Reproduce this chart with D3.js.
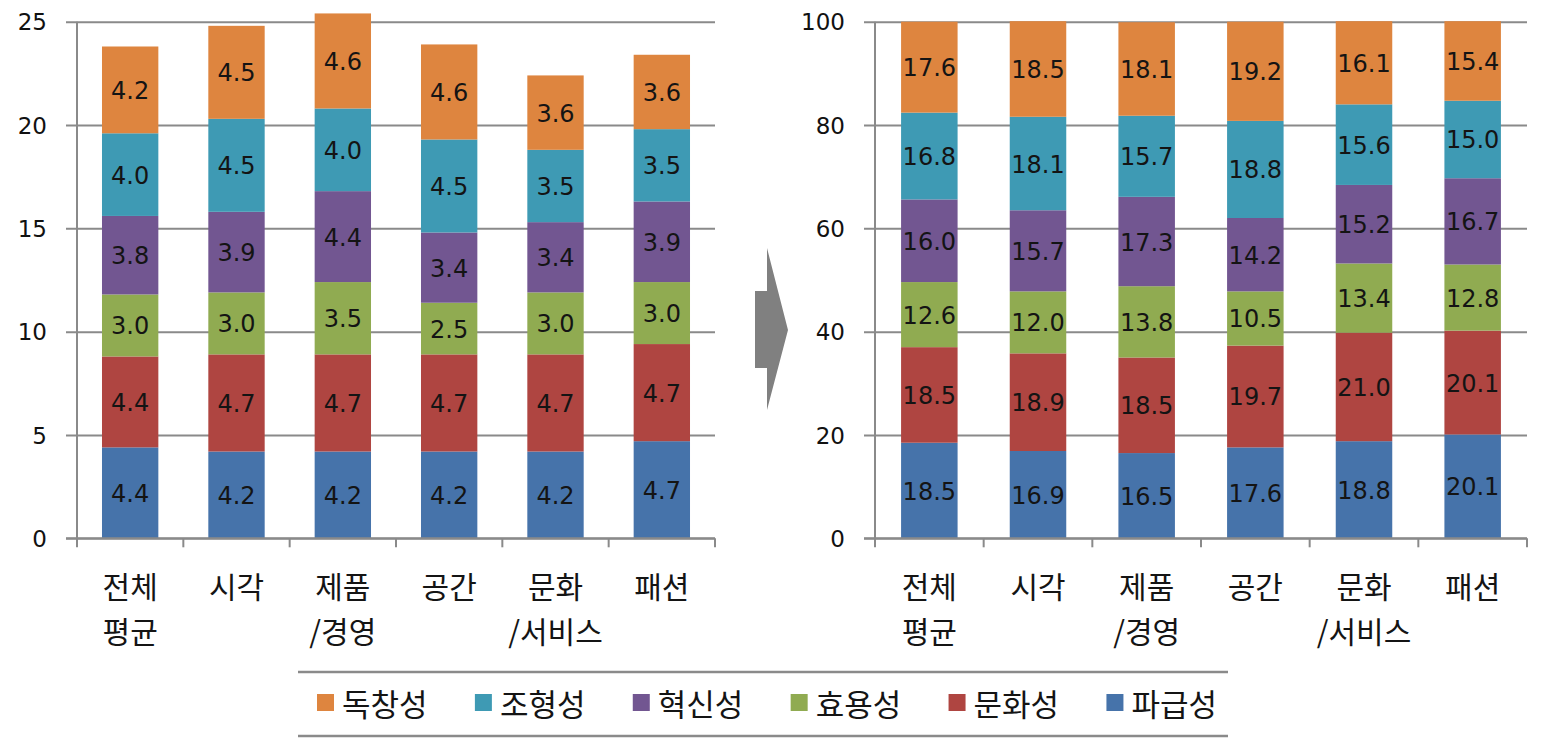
<!DOCTYPE html>
<html>
<head>
<meta charset="utf-8">
<script src="https://cdn.jsdelivr.net/npm/d3@7/dist/d3.min.js"></script>
<style>
  html, body { margin: 0; padding: 0; background: #ffffff; }
  svg { display: block; }
</style>
</head>
<body>
<svg id="chart" width="1547" height="748"></svg>
<script>
// ---------------- DATA ----------------
const categories = [["전체", "평균"], ["시각"], ["제품", "/경영"], ["공간"], ["문화", "/서비스"], ["패션"]];
// stacking order from bottom to top
const seriesNames = ["파급성", "문화성", "효용성", "혁신성", "조형성", "독창성"];
const seriesColors = ["#4673AA", "#AF4541", "#90AB51", "#725691", "#3E9AB4", "#DE853F"];
const legendOrder = ["독창성", "조형성", "혁신성", "효용성", "문화성", "파급성"];

// Left chart: scores
const left_파급성 = [4.4, 4.2, 4.2, 4.2, 4.2, 4.7];
const left_문화성 = [4.4, 4.7, 4.7, 4.7, 4.7, 4.7];
const left_효용성 = [3.0, 3.0, 3.5, 2.5, 3.0, 3.0];
const left_혁신성 = [3.8, 3.9, 4.4, 3.4, 3.4, 3.9];
const left_조형성 = [4.0, 4.5, 4.0, 4.5, 3.5, 3.5];
const left_독창성 = [4.2, 4.5, 4.6, 4.6, 3.6, 3.6];
const leftTicks = [0, 5, 10, 15, 20, 25];

// Right chart: percentages
const right_파급성 = [18.5, 16.9, 16.5, 17.6, 18.8, 20.1];
const right_문화성 = [18.5, 18.9, 18.5, 19.7, 21.0, 20.1];
const right_효용성 = [12.6, 12.0, 13.8, 10.5, 13.4, 12.8];
const right_혁신성 = [16.0, 15.7, 17.3, 14.2, 15.2, 16.7];
const right_조형성 = [16.8, 18.1, 15.7, 18.8, 15.6, 15.0];
const right_독창성 = [17.6, 18.5, 18.1, 19.2, 16.1, 15.4];
const rightTicks = [0, 20, 40, 60, 80, 100];

const leftSeries = [left_파급성, left_문화성, left_효용성, left_혁신성, left_조형성, left_독창성];
const rightSeries = [right_파급성, right_문화성, right_효용성, right_혁신성, right_조형성, right_독창성];

// ---------------- DRAW ----------------
const svg = d3.select("#chart");
const NUM_FONT = "'DejaVu Sans', Verdana, sans-serif";
const KR_FONT = "'Noto Sans CJK KR', 'Noto Sans', sans-serif";
const GRID = "#8a8a8a";
const color = d3.scaleOrdinal().domain(seriesNames).range(seriesColors);

function drawChart(cfg) {
  const g = svg.append("g");
  const keys = categories.map((c, i) => "c" + i);
  const x = d3.scaleBand().domain(keys).range([cfg.x0, cfg.x1])
    .paddingInner(cfg.pad).paddingOuter(cfg.pad / 2);
  const y = d3.scaleLinear().domain([0, cfg.max]).range([cfg.yBottom, cfg.yTop]);

  // table for stack
  const table = keys.map((k, i) => {
    const row = { key: k };
    seriesNames.forEach((s, j) => row[s] = cfg.series[j][i]);
    return row;
  });
  const stacked = d3.stack().keys(seriesNames)(table);

  // gridlines (y axis ticks with outer extension)
  const yAxis = d3.axisLeft(y).tickValues(cfg.ticks)
    .tickSize(-(cfg.x1 - cfg.x0)).tickSizeOuter(0).tickFormat(d3.format("d"));
  const ya = g.append("g").attr("transform", `translate(${cfg.x0},0)`).call(yAxis);
  ya.select(".domain").remove();
  ya.selectAll(".tick line").attr("stroke", GRID).attr("stroke-width", 2)
    .attr("x1", -11);
  ya.selectAll(".tick text").attr("x", -30).attr("dy", "0.36em")
    .attr("font-family", NUM_FONT).attr("font-size", 23).attr("fill", "#111");

  // vertical axis line
  g.append("line").attr("x1", cfg.x0).attr("x2", cfg.x0)
    .attr("y1", y(cfg.max)).attr("y2", y(0) + 1)
    .attr("stroke", GRID).attr("stroke-width", 2);

  // bars
  const layers = g.append("g").selectAll("g").data(stacked).join("g")
    .attr("fill", d => color(d.key));
  layers.selectAll("rect").data(d => d).join("rect")
    .attr("x", d => x(d.data.key))
    .attr("width", x.bandwidth())
    .attr("y", d => y(d[1]))
    .attr("height", d => y(d[0]) - y(d[1]));

  // data labels
  const lab = g.append("g");
  stacked.forEach(layer => {
    layer.forEach(d => {
      lab.append("text")
        .attr("x", x(d.data.key) + x.bandwidth() / 2)
        .attr("y", y((d[0] + d[1]) / 2) + 9)
        .attr("text-anchor", "middle")
        .attr("font-family", NUM_FONT).attr("font-size", 24)
        .attr("fill", "#141414")
        .text(d3.format(".1f")(d.data[layer.key]));
    });
  });

  // x axis line and ticks
  g.append("line").attr("x1", cfg.x0 - 11).attr("x2", cfg.x1)
    .attr("y1", y(0)).attr("y2", y(0))
    .attr("stroke", GRID).attr("stroke-width", 2);
  const bounds = keys.map(k => x(k) - (x.step() - x.bandwidth()) / 2).concat([cfg.x1]);
  g.append("g").selectAll("line").data(bounds).join("line")
    .attr("x1", d => d).attr("x2", d => d)
    .attr("y1", y(0)).attr("y2", y(0) + 9)
    .attr("stroke", GRID).attr("stroke-width", 2);

  // category labels
  const cl = g.append("g");
  categories.forEach((lines, i) => {
    const t = cl.append("text")
      .attr("x", x(keys[i]) + x.bandwidth() / 2)
      .attr("y", 598)
      .attr("text-anchor", "middle")
      .attr("font-family", KR_FONT).attr("font-size", 30)
      .attr("fill", "#141414");
    lines.forEach((ln, j) => {
      t.append("tspan").attr("x", x(keys[i]) + x.bandwidth() / 2)
        .attr("dy", j === 0 ? 0 : 45).text(ln);
    });
  });
}

drawChart({ x0: 77, x1: 715, yTop: 21.7, yBottom: 538.3, max: 25, pad: 0.47,
            ticks: leftTicks, series: leftSeries });
drawChart({ x0: 875, x1: 1527, yTop: 21.7, yBottom: 538.3, max: 100, pad: 0.48,
            ticks: rightTicks, series: rightSeries });

// arrow
svg.append("path")
  .attr("d", "M755,291 L767,291 L767,248 L788,330 L767,410 L767,368 L755,368 Z")
  .attr("fill", "#808080");

// legend
const lg = svg.append("g");
lg.append("line").attr("x1", 298).attr("x2", 1228).attr("y1", 672).attr("y2", 672)
  .attr("stroke", "#8a8a8a").attr("stroke-width", 2.5);
lg.append("line").attr("x1", 298).attr("x2", 1228).attr("y1", 736).attr("y2", 736)
  .attr("stroke", "#8a8a8a").attr("stroke-width", 2.5);

const items = lg.selectAll("g.item").data(legendOrder).join("g").attr("class", "item");
items.append("rect").attr("width", 17).attr("height", 17).attr("y", 694)
  .attr("fill", d => color(d));
items.append("text").attr("y", 716).attr("font-family", KR_FONT)
  .attr("font-size", 31).attr("fill", "#141414").text(d => d);
// sequential layout between measured extents
const widths = [];
items.select("text").each(function () { widths.push(this.getComputedTextLength()); });
const itemW = widths.map(w => 17 + 8 + w);
const legL = 317, legR = 1217;
const gap = (legR - legL - d3.sum(itemW)) / (legendOrder.length - 1);
let cx = legL;
items.each(function (d, i) {
  const s = d3.select(this);
  s.select("rect").attr("x", cx);
  s.select("text").attr("x", cx + 25);
  cx += itemW[i] + gap;
});
</script>
</body>
</html>
